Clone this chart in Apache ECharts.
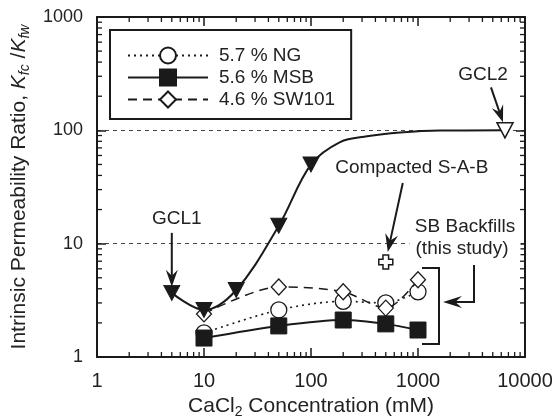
<!DOCTYPE html>
<html><head><meta charset="utf-8">
<script src="https://cdn.jsdelivr.net/npm/echarts@6/dist/echarts.min.js"></script>
<style>html,body{margin:0;padding:0;background:#fff}#c{width:556px;height:420px}</style>
</head><body><div id="c"></div>
<script>
// ---- data ----
const concNG = [10, 50, 200, 500, 1000];
const ratioNG = [1.63, 2.6, 3.1, 3.0, 3.76];
const concMSB = [10, 50, 200, 500, 1000];
const ratioMSB = [1.47, 1.88, 2.12, 1.96, 1.73];
const concSW = [10, 50, 200, 500, 1000];
const ratioSW = [2.4, 4.15, 3.76, 2.7, 4.8];
const concGCL1 = [5, 10, 20, 50, 100];
const ratioGCL1 = [3.68, 2.6, 3.9, 14.4, 50];
const concGCL2 = [6500];
const ratioGCL2 = [100];
// points (no markers)
const curveConc = [187, 334, 680, 1600];
const curveRatio = [78.8, 88.5, 95.5, 99.5];
const concSAB = [500];
const ratioSAB = [6.9];
const xTicks = [1, 10, 100, 1000, 10000];
const yTicks = [1, 10, 100, 1000];
const minorMult = [2, 3, 4, 5, 6, 7, 8, 9];
const legendNames = ['5.7 % NG', '5.6 % MSB', '4.6 % SW101'];

const pairs = (xs, ys) => xs.map((x, i) => [x, ys[i]]);
const gclCurve = pairs(concGCL1, ratioGCL1).concat(pairs(curveConc, curveRatio), pairs(concGCL2, ratioGCL2)).sort((a, b) => a[0] - b[0]);

const minorData = [];
xTicks.slice(0, -1).forEach(d => minorMult.forEach(m => minorData.push([d * m, 1, 0])));
yTicks.slice(0, -1).forEach(d => minorMult.forEach(m => minorData.push([1, d * m, 1])));

const INK = '#1a1a1a';
const FONT = 'Liberation Sans';
const chart = echarts.init(document.getElementById('c'), null, {renderer: 'canvas'});

const axisCommon = {
  type: 'log', logBase: 10,
  axisLine: {show: true, onZero: false, lineStyle: {color: INK, width: 2}},
  axisTick: {show: true, inside: true, length: 9, lineStyle: {color: INK, width: 1.5}},
  splitLine: {show: false},
  minorTick: {show: false}
};
const fmt = v => String(Math.round(v));

const option = {
  animation: false,
  textStyle: {fontFamily: FONT},
  grid: {left: 97, right: 31, top: 17, bottom: 63, containLabel: false, outerBoundsMode: 'none'},
  xAxis: [
    Object.assign({}, axisCommon, {
      position: 'bottom', min: xTicks[0], max: xTicks[xTicks.length - 1],
      axisLabel: {fontSize: 20, color: '#222', margin: 14, formatter: fmt, fontFamily: FONT},
      name: '{n|CaCl}{s|2}{n| Concentration (mM)}', nameLocation: 'middle', nameGap: 36,
      nameTextStyle: {rich: {n: {fontSize: 21, color: '#222', fontFamily: FONT}, s: {fontSize: 14, color: '#222', fontFamily: FONT, padding: [12, 0, 0, 0]}}}
    }),
    Object.assign({}, axisCommon, {position: 'top', min: xTicks[0], max: xTicks[xTicks.length - 1], axisLabel: {show: false}})
  ],
  yAxis: [
    Object.assign({}, axisCommon, {
      position: 'left', min: yTicks[0], max: yTicks[yTicks.length - 1],
      axisLabel: {fontSize: 18, color: '#222', margin: 14, formatter: fmt, fontFamily: FONT},
      splitLine: {show: true, lineStyle: {color: '#444', width: 1, type: [4, 4]}},
      name: '{n|Intrinsic Permeability Ratio, }{i|K}{s|fc}{n| /}{i|K}{s|fw}', nameLocation: 'middle', nameGap: 65,
      nameTextStyle: {rich: {
        n: {fontSize: 21, color: '#222', fontFamily: FONT},
        i: {fontSize: 21, color: '#222', fontFamily: FONT, fontStyle: 'italic'},
        s: {fontSize: 14, color: '#222', fontFamily: FONT, fontStyle: 'italic', padding: [12, 0, 0, 0]}
      }}
    }),
    Object.assign({}, axisCommon, {position: 'right', min: yTicks[0], max: yTicks[yTicks.length - 1], axisLabel: {show: false}})
  ],
  legend: {
    data: legendNames, orient: 'vertical', left: 110, top: 30,
    itemWidth: 80, itemHeight: 20, itemGap: 3,
    padding: [16, 16, 10, 17],
    borderColor: INK, borderWidth: 2, borderRadius: 0, backgroundColor: '#fff',
    selectedMode: false,
    textStyle: {fontSize: 19, color: '#222', fontFamily: FONT, padding: [0, 0, 0, 6]}
  },
  series: [
    {
      type: 'custom', coordinateSystem: 'cartesian2d', silent: true, z: 1,
      encode: {x: 0, y: 1}, data: minorData, clip: false,
      renderItem: (params, api) => {
        const cs = params.coordSys, L = 5, st = {stroke: INK, lineWidth: 1.3};
        if (api.value(2) === 0) {
          const x = api.coord([api.value(0), 1])[0];
          return {type: 'group', children: [
            {type: 'line', shape: {x1: x, y1: cs.y + cs.height, x2: x, y2: cs.y + cs.height - L}, style: st},
            {type: 'line', shape: {x1: x, y1: cs.y, x2: x, y2: cs.y + L}, style: st}
          ]};
        }
        const y = api.coord([1, api.value(1)])[1];
        return {type: 'group', children: [
          {type: 'line', shape: {x1: cs.x, y1: y, x2: cs.x + L, y2: y}, style: st},
          {type: 'line', shape: {x1: cs.x + cs.width, y1: y, x2: cs.x + cs.width - L, y2: y}, style: st}
        ]};
      }
    },
    {
      name: legendNames[0], type: 'line', z: 3, data: pairs(concNG, ratioNG), smooth: 0.3,
      symbol: 'circle', symbolSize: 16,
      lineStyle: {color: INK, width: 1.6, type: [2, 4]},
      itemStyle: {color: '#fff', borderColor: INK, borderWidth: 1.3}
    },
    {
      name: legendNames[2], type: 'line', z: 4, data: pairs(concSW, ratioSW), smooth: 0.3,
      symbol: 'diamond', symbolSize: [15, 16],
      lineStyle: {color: INK, width: 1.5, type: [9, 6]},
      itemStyle: {color: '#fff', borderColor: INK, borderWidth: 1.3}
    },
    {
      name: legendNames[1], type: 'line', z: 5, data: pairs(concMSB, ratioMSB), smooth: 0.3,
      symbol: 'rect', symbolSize: 16,
      lineStyle: {color: INK, width: 2},
      itemStyle: {color: INK, borderColor: INK, borderWidth: 1}
    },
    {
      name: 'GCL curve', type: 'line', z: 6, data: gclCurve, smooth: 0.35, showSymbol: false, symbol: 'none',
      lineStyle: {color: INK, width: 2}
    },
    {
      name: 'GCL1', type: 'scatter', z: 7, data: pairs(concGCL1, ratioGCL1),
      symbol: 'triangle', symbolRotate: 180, symbolSize: [16, 15],
      itemStyle: {color: INK, borderColor: INK, borderWidth: 1, opacity: 1}
    },
    {
      name: 'GCL2', type: 'scatter', z: 7, data: pairs(concGCL2, ratioGCL2),
      symbol: 'triangle', symbolRotate: 180, symbolSize: [16, 15],
      itemStyle: {color: '#fff', borderColor: INK, borderWidth: 1.5, opacity: 1}
    },
    {
      name: 'Compacted S-A-B', type: 'scatter', z: 7, data: pairs(concSAB, ratioSAB),
      symbol: 'path://M3,0 H7 V3 H10 V7 H7 V10 H3 V7 H0 V3 H3 Z', symbolSize: 14,
      itemStyle: {color: '#fff', borderColor: INK, borderWidth: 1.5, opacity: 1}
    }
  ]
};
chart.setOption(option);

// ---- annotations, anchored to data positions through the chart's scales ----
const P = (x, y) => chart.convertToPixel({xAxisIndex: 0, yAxisIndex: 0}, [x, y]);
function arrow(x1, y1, x2, y2, L, W) {
  const dx = x2 - x1, dy = y2 - y1, len = Math.hypot(dx, dy), ux = dx / len, uy = dy / len, nx = -uy, ny = ux;
  const bx = x2 - ux * L, by = y2 - uy * L;
  return [
    {type: 'line', z: 20, shape: {x1: x1, y1: y1, x2: x2 - ux * L * 0.6, y2: y2 - uy * L * 0.6}, style: {stroke: INK, lineWidth: 2}},
    {type: 'polygon', z: 20, shape: {points: [[x2, y2], [bx + nx * W / 2, by + ny * W / 2], [x2 - ux * L * 0.65, y2 - uy * L * 0.65], [bx - nx * W / 2, by - ny * W / 2]]}, style: {fill: INK}}
  ];
}
function label(text, x, y, bg) {
  const st = {text: text, fontSize: 19, fontFamily: FONT, fill: '#222', align: 'center', verticalAlign: 'middle'};
  if (bg) { st.backgroundColor = '#fff'; st.padding = [0, 12, 0, 6]; }
  return {type: 'text', z: 20, x: x, y: y, style: st};
}
const g = [];
const p1 = P(concGCL1[0], ratioGCL1[0]);
g.push(label('GCL1', p1[0] + 5, p1[1] - 74));
g.push(...arrow(p1[0], p1[1] - 60, p1[0], p1[1] - 6, 17, 12));
const p2 = P(concGCL2[0], ratioGCL2[0]);
g.push(label('GCL2', p2[0] - 22, p2[1] - 56));
g.push(...arrow(p2[0] - 14, p2[1] - 43, p2[0] - 2, p2[1] - 8, 17, 12));
const p3 = P(concSAB[0], ratioSAB[0]);
g.push(label('Compacted S-A-B', p3[0] + 26, p3[1] - 94));
g.push(...arrow(p3[0] + 17, p3[1] - 79, p3[0] + 2, p3[1] - 10, 18, 13));
const p4 = P(1000, 1);
g.push(label('SB Backfills', p4[0] + 47, p4[1] - 130));
g.push(label('(this study)', p4[0] + 47, p4[1] - 108, true));
g.push({type: 'polyline', z: 20, shape: {points: [[p4[0] + 4, p4[1] - 89], [p4[0] + 21, p4[1] - 89], [p4[0] + 21, p4[1] - 13], [p4[0] + 4, p4[1] - 13]]}, style: {stroke: INK, lineWidth: 2, fill: null}});
g.push({type: 'polyline', z: 20, shape: {points: [[p4[0] + 56, p4[1] - 92], [p4[0] + 56, p4[1] - 55], [p4[0] + 38, p4[1] - 55]]}, style: {stroke: INK, lineWidth: 2, fill: null}});
g.push(...arrow(p4[0] + 45, p4[1] - 55, p4[0] + 25, p4[1] - 55, 19, 12));
chart.setOption({graphic: g});
</script>
</body></html>
